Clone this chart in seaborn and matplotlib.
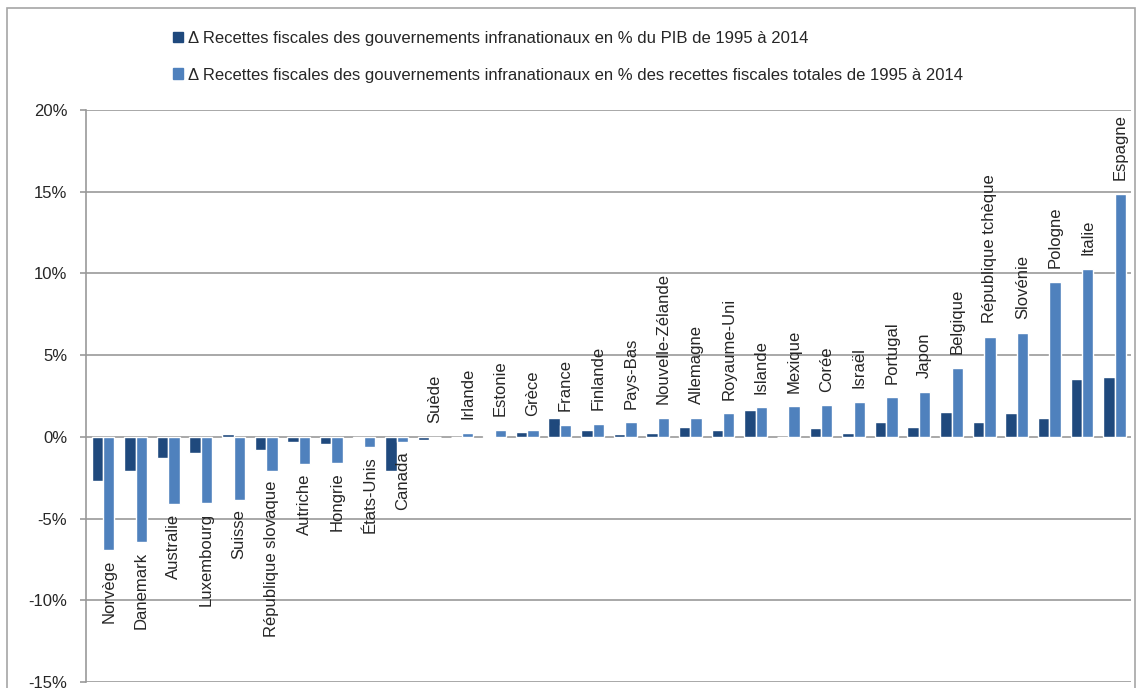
import pandas as pd
import matplotlib.pyplot as plt
import seaborn as sns
from matplotlib.patches import Patch, Rectangle
from matplotlib.ticker import FuncFormatter, MultipleLocator

# Valeurs (en %)
pays = ["Norvège", "Danemark", "Australie", "Luxembourg", "Suisse",
        "République slovaque", "Autriche", "Hongrie", "États-Unis", "Canada",
        "Suède", "Irlande", "Estonie", "Grèce", "France", "Finlande",
        "Pays-Bas", "Nouvelle-Zélande", "Allemagne", "Royaume-Uni", "Islande",
        "Mexique", "Corée", "Israël", "Portugal", "Japon", "Belgique",
        "République tchèque", "Slovénie", "Pologne", "Italie", "Espagne"]
pib = [-2.70, -2.10, -1.30, -0.96, 0.16, -0.82, -0.30, -0.45, -0.04, -2.06,
       -0.20, -0.02, 0.06, 0.29, 1.18, 0.41, 0.20, 0.24, 0.59, 0.39, 1.67,
       0.02, 0.53, 0.22, 0.88, 0.59, 1.51, 0.94, 1.45, 1.18, 3.55, 3.69]
recettes = [-6.93, -6.46, -4.12, -4.04, -3.85, -2.10, -1.65, -1.60, -0.61, -0.30,
            0.02, 0.22, 0.43, 0.43, 0.75, 0.80, 0.88, 1.16, 1.18, 1.43, 1.80,
            1.86, 1.92, 2.12, 2.41, 2.73, 4.20, 6.12, 6.36, 9.50, 10.30, 14.84]

serie_pib = "\u0394 Recettes fiscales des gouvernements infranationaux en % du PIB de 1995 à 2014"
serie_rec = "\u0394 Recettes fiscales des gouvernements infranationaux en % des recettes fiscales totales de 1995 à 2014"

n = len(pays)
df = pd.DataFrame({
    "Pays": pays * 2,
    "Valeur": pib + recettes,
    "Série": [serie_pib] * n + [serie_rec] * n,
})

fonce = "#1F497D"
clair = "#4F81BD"

sns.set_style("white")
plt.rcParams["font.family"] = ["Liberation Sans", "DejaVu Sans"]

fig = plt.figure(figsize=(11.39, 6.88), dpi=100)
ax = fig.add_axes([0.0755, 0.0087, 0.9175, 0.8314])

sns.barplot(data=df, x="Pays", y="Valeur", hue="Série", palette=[fonce, clair],
            width=0.7, saturation=1, legend=False, ax=ax)

ax.set_ylim(-15, 20)
ax.set_xlim(-0.52, 31.5)
ax.yaxis.set_major_locator(MultipleLocator(5))
ax.yaxis.set_major_formatter(FuncFormatter(lambda v, p: f"{v:.0f}%"))
ax.yaxis.grid(True, color="#999999", lw=1.2)
ax.set_axisbelow(True)
ax.set_xticks([])
ax.set_xlabel("")
ax.set_ylabel("")
for s in ["top", "right", "bottom"]:
    ax.spines[s].set_visible(False)
ax.spines["left"].set_color("#999999")
ax.spines["left"].set_linewidth(1.2)
ax.tick_params(axis="y", direction="out", length=4.5, width=1.2, color="#999999",
               labelsize=12, pad=9, left=True)

# Noms des pays au bout des barres claires
for bar, nom, v in zip(ax.containers[1], pays, recettes):
    x = bar.get_x() + bar.get_width() / 2
    if v >= 0:
        ax.annotate(nom, (x, v), xytext=(0, 10), textcoords="offset points",
                    rotation=90, ha="center", va="bottom", fontsize=12)
    else:
        ax.annotate(nom, (x, v), xytext=(0, -7), textcoords="offset points",
                    rotation=90, ha="center", va="top", fontsize=12)

handles = [Patch(color=fonce), Patch(color=clair)]
fig.legend(handles, [serie_pib, serie_rec], loc="upper left",
           bbox_to_anchor=(0.152, 0.955), frameon=False, fontsize=12,
           handlelength=0.6, handleheight=0.6, handletextpad=0.3,
           labelspacing=1.3, borderpad=0, borderaxespad=0)

fig.add_artist(Rectangle((7 / 1139, -0.1), 1128 / 1139, 1.1 - 8 / 688,
                         fill=False, ec="#a6a6a6", lw=1.2,
                         transform=fig.transFigure))

plt.savefig("out.png", dpi=100)
